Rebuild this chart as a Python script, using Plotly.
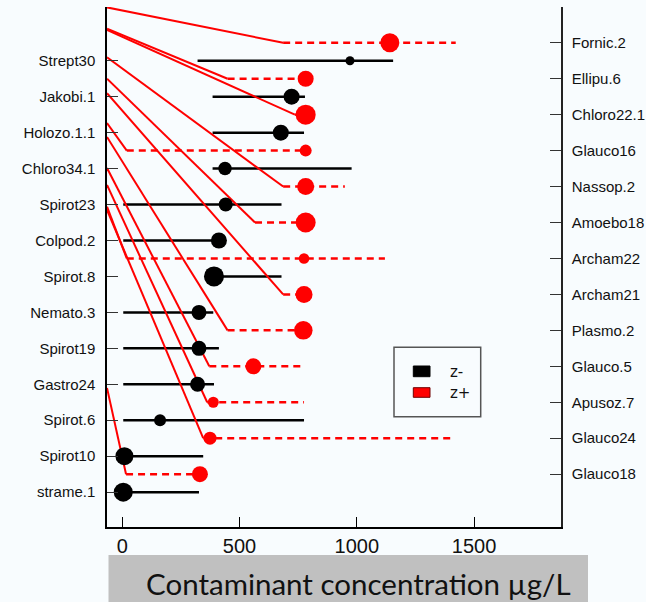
import plotly.graph_objects as go

# ---------------- data ----------------
black_taxa = ["Strept30", "Jakobi.1", "Holozo.1.1", "Chloro34.1", "Spirot23", "Colpod.2",
              "Spirot.8", "Nemato.3", "Spirot19", "Gastro24", "Spirot.6", "Spirot10", "strame.1"]
black_pos = [1, 3, 5, 7, 9, 11, 13, 15, 17, 19, 21, 23, 25]
black_cp = [971, 722, 676, 438, 441, 412, 391, 327, 327, 321, 161, 9, 4]
black_lo = [321, 385, 385, 385, 4, 4, 391, 4, 4, 4, 4, 4, 4]
black_hi = [1155, 779, 775, 978, 679, 440, 679, 388, 412, 391, 775, 345, 327]
black_size = [9, 16, 16, 13.5, 14, 16, 20, 15, 15, 15, 12, 18, 19]

red_taxa = ["Fornic.2", "Ellipu.6", "Chloro22.1", "Glauco16", "Nassop.2", "Amoebo18", "Archam22",
            "Archam21", "Plasmo.2", "Glauco.5", "Apusoz.7", "Glauco24", "Glauco18"]
red_pos = [0, 2, 4, 6, 8, 10, 12, 14, 16, 18, 20, 22, 24]
red_cp = [1141, 782, 782, 782, 782, 782, 775, 775, 772, 559, 388, 374, 331]
red_lo = [686, 449, 736, 19, 686, 566, 19, 686, 449, 371, 362, 345, 16]
red_hi = [1422, 782, 782, 782, 949, 782, 1120, 775, 772, 779, 775, 1418, 331]
red_size = [19, 16, 20, 12, 17, 20, 10.5, 17, 18.5, 16, 11, 13, 16]
# y position (row units) where each red leader line leaves the left axis
red_link_from = [-1.97, -0.78, -0.71, 4.47, 0.81, 2.0, 9.12, 2.81, 5.24, 6.97, 7.91, 9.3, 19.2]

x_ticks = [0, 500, 1000, 1500]
x_range = [-65.3, 1871]
y_range = [26.94, -1.99]

legend_labels = ["z-", "z+"]
x_title = "Contaminant concentration µg/L"

BLACK = "#000000"
RED = "#ff0000"
BG = "#f8fcfe"


def segs(x0s, x1s, y0s, y1s):
    xs, ys = [], []
    for a, b, c, d in zip(x0s, x1s, y0s, y1s):
        xs += [a, b, None]
        ys += [c, d, None]
    return xs, ys


fig = go.Figure()

# black intervals
bx, by = segs(black_lo, black_hi, black_pos, black_pos)
fig.add_trace(go.Scatter(x=bx, y=by, mode="lines", line=dict(color=BLACK, width=2.5),
                         hoverinfo="skip", showlegend=False))

# red leader lines from left axis
lx, ly = segs([x_range[0]] * len(red_lo), red_lo, red_link_from, red_pos)
fig.add_trace(go.Scatter(x=lx, y=ly, mode="lines", line=dict(color=RED, width=2),
                         hoverinfo="skip", showlegend=False))

# red dashed intervals
rx, ry = segs(red_lo, red_hi, red_pos, red_pos)
fig.add_trace(go.Scatter(x=rx, y=ry, mode="lines",
                         line=dict(color=RED, width=2.5, dash="7px,5px"),
                         hoverinfo="skip", showlegend=False))

# black change points
fig.add_trace(go.Scatter(x=black_cp, y=black_pos, mode="markers",
                         marker=dict(color=BLACK, size=black_size, opacity=1, line=dict(width=0)),
                         text=black_taxa, name=legend_labels[0], showlegend=False))

# red change points (on right axis)
fig.add_trace(go.Scatter(x=red_cp, y=red_pos, mode="markers", yaxis="y2",
                         marker=dict(color=RED, size=red_size, opacity=1, line=dict(width=0)),
                         text=red_taxa, name=legend_labels[1], showlegend=False))

# plot area geometry in pixels
L, R, T, B = 107, 561, 7, 527
W, H = R - L, B - T


def px(x):
    return (x - L) / W


def py(y):
    return (B - y) / H


shapes = [
    # legend box
    dict(type="rect", xref="paper", yref="paper", x0=px(394), x1=px(480.7), y0=py(416.7), y1=py(347.3),
         line=dict(color="#555555", width=1.5), fillcolor="rgba(0,0,0,0)"),
    dict(type="rect", xref="paper", yref="paper", x0=px(413.3), x1=px(430), y0=py(376.7), y1=py(366),
         line=dict(color=BLACK, width=1), fillcolor=BLACK),
    dict(type="rect", xref="paper", yref="paper", x0=px(413.3), x1=px(430), y0=py(397.3), y1=py(387.7),
         line=dict(color="#700000", width=1), fillcolor=RED),
    # grey title band
    dict(type="rect", xref="paper", yref="paper", x0=px(108.5), x1=px(588), y0=py(602), y1=py(555),
         line=dict(width=0), fillcolor="#c0c0c0", layer="below"),
]

annotations = [
    dict(text=legend_labels[0], xref="paper", yref="paper", x=px(448), y=py(371.5), xanchor="left",
         yanchor="middle", showarrow=False, font=dict(family="DejaVu Sans", size=15, color="#111111")),
    dict(text=legend_labels[1], xref="paper", yref="paper", x=px(448), y=py(393), xanchor="left",
         yanchor="middle", showarrow=False, font=dict(family="DejaVu Sans", size=15, color="#111111")),
    dict(text=x_title, xref="paper", yref="paper", x=px(358.5), y=py(583), xanchor="center",
         yanchor="middle", showarrow=False, font=dict(family="Lato", size=29.5, color="#111111")),
]

axis_font = dict(family="Liberation Sans, Arial", size=15, color="#111111")

fig.update_layout(
    width=646, height=602, autosize=False,
    margin=dict(l=L, r=646 - R, t=T, b=602 - B, pad=0),
    paper_bgcolor=BG, plot_bgcolor=BG,
    showlegend=False,
    shapes=shapes, annotations=annotations,
    xaxis=dict(range=x_range, tickvals=x_ticks, ticktext=[str(v) for v in x_ticks],
               showgrid=False, zeroline=False, showline=True, linecolor=BLACK, linewidth=1.5,
               ticks="inside", ticklen=10, tickwidth=1, tickcolor=BLACK, automargin=False,
               tickfont=dict(family="Liberation Sans, Arial", size=20, color="#111111"),
               ticklabelstandoff=0),
    yaxis=dict(range=y_range, tickvals=black_pos, ticktext=black_taxa, automargin=False,
               showgrid=False, zeroline=False, showline=True, linecolor=BLACK, linewidth=1.5,
               ticks="inside", ticklen=11, tickwidth=1, tickcolor="#333333",
               tickfont=axis_font, ticklabelstandoff=7),
    yaxis2=dict(range=y_range, tickvals=red_pos, ticktext=red_taxa, overlaying="y", side="right",
                automargin=False,
                showgrid=False, zeroline=False, showline=True, linecolor="#222222", linewidth=1.5,
                ticks="inside", ticklen=11, tickwidth=1, tickcolor="#333333",
                tickfont=axis_font, ticklabelstandoff=6),
)

fig.write_html("out.html")
